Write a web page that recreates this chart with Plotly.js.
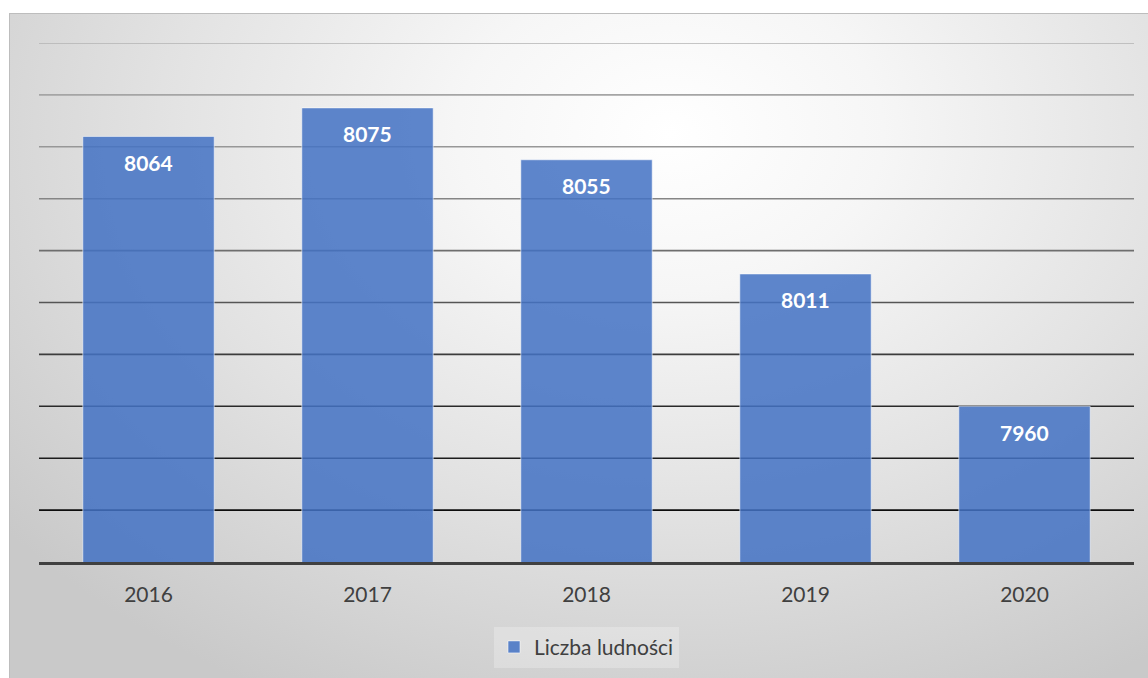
<!DOCTYPE html>
<html>
<head>
<meta charset="utf-8">
<script src="https://cdn.plot.ly/plotly-3.0.1.min.js"></script>
<style>
  html, body { margin: 0; padding: 0; background: #ffffff; }
  #wrap { position: relative; width: 1148px; height: 678px; overflow: hidden; }
  #bg {
    position: absolute; left: 9px; top: 13px; width: 1139px; height: 665px;
    box-sizing: border-box; border-left: 1px solid #bdbdbd; border-top: 1px solid #bdbdbd;
    background: radial-gradient(ellipse 75% 95% at 58% 18%, #ffffff 0%, #f6f6f6 25%, #e2e2e2 60%, #c9c9c9 100%);
  }
  #chart { position: absolute; left: 0; top: 0; width: 1148px; height: 678px; }
</style>
</head>
<body>
<div id="wrap">
  <div id="bg"></div>
  <div id="chart"></div>
</div>
<script>
// ---- data ----
const years = ["2016", "2017", "2018", "2019", "2020"];
const population = [8064, 8075, 8055, 8011, 7960];
const seriesName = "Liczba ludności";
const gridValues = [7920, 7940, 7960, 7980, 8000, 8020, 8040, 8060, 8080, 8100];

// ---- styles ----
const gridColors = ["#0d0d0d", "#1c1c1c", "#2a2a2a", "#3c3c3c", "#555555", "#6e6e6e", "#858585", "#979797", "#a5a5a5", "#b3b3b3"];
const fontFamily = "Lato, 'Open Sans', sans-serif";

const trace = {
  type: "bar",
  x: years,
  y: population,
  name: seriesName,
  marker: {
    color: "rgba(68,114,196,0.86)",
    line: { color: "rgba(255,255,255,0.55)", width: 1 }
  },
  hoverinfo: "skip",
  showlegend: true
};

const shapes = gridValues.map((v, i) => ({
  type: "line", xref: "paper", yref: "y", x0: 0, x1: 1, y0: v, y1: v,
  line: { color: gridColors[i], width: 1.6 }, layer: "below"
}));

// category index i on the category axis
const annotations = years.map((yr, i) => ({
  x: i, y: population[i], xref: "x", yref: "y",
  text: "<b>" + population[i] + "</b>",
  showarrow: false, yanchor: "middle", yshift: -26,
  font: { family: fontFamily, size: 21, color: "#ffffff" }
}));

const layout = {
  width: 1148, height: 678,
  margin: { l: 39, r: 14, t: 43, b: 115 },
  paper_bgcolor: "rgba(0,0,0,0)",
  plot_bgcolor: "rgba(0,0,0,0)",
  bargap: 0.4,
  font: { family: fontFamily, color: "#404040" },
  xaxis: {
    type: "category",
    categoryarray: years, categoryorder: "array",
    range: [-0.5, years.length - 0.5],
    showgrid: false, zeroline: false,
    showline: true, linecolor: "#404040", linewidth: 3,
    ticks: "outside", ticklen: 12, tickcolor: "rgba(0,0,0,0)",
    tickfont: { family: fontFamily, size: 21, color: "#404040" },
    fixedrange: true
  },
  yaxis: {
    range: [7900, 8100],
    showgrid: false, zeroline: false, showline: false,
    showticklabels: false, ticks: "",
    fixedrange: true
  },
  shapes: shapes,
  annotations: annotations,
  showlegend: true,
  legend: {
    orientation: "h", x: 0.5, xanchor: "center", y: -0.162, yanchor: "middle",
    bgcolor: "rgba(255,255,255,0.25)",
    font: { family: fontFamily, size: 21, color: "#404040" },
    itemwidth: 30
  }
};

Plotly.newPlot("chart", [trace], layout, { displayModeBar: false, staticPlot: true });
</script>
</body>
</html>
